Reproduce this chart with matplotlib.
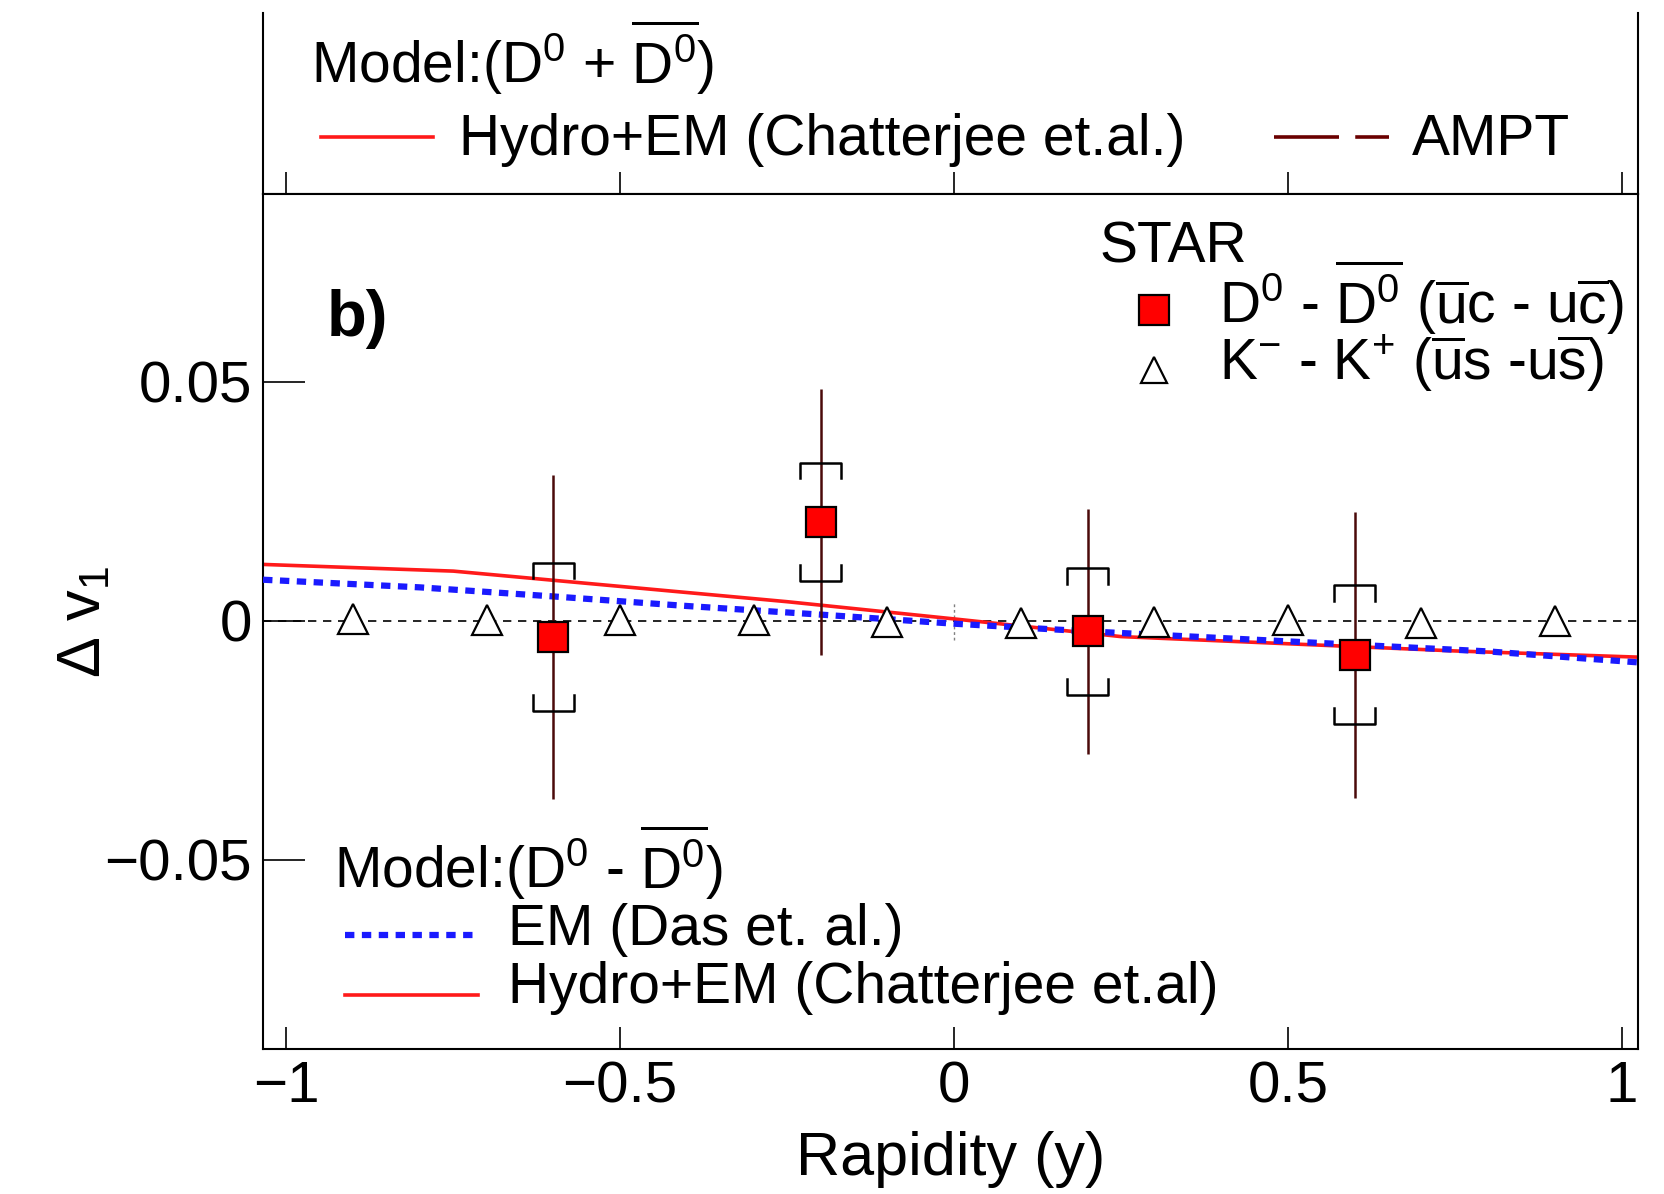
import matplotlib
matplotlib.use("Agg")
import matplotlib.pyplot as plt
from matplotlib.lines import Line2D
import numpy as np

plt.rcParams['font.family'] = ['Liberation Sans', 'DejaVu Sans']
plt.rcParams['mathtext.fontset'] = 'custom'
plt.rcParams['mathtext.rm'] = 'Liberation Sans'
plt.rcParams['mathtext.it'] = 'Liberation Sans:italic'
plt.rcParams['mathtext.bf'] = 'Liberation Sans:bold'

# ---------------- data ----------------
d0_y = [-0.6, -0.2, 0.2, 0.6]
d0_dv1 = [-0.0033, 0.0207, -0.0022, -0.0071]
d0_stat = [0.0339, 0.0278, 0.0257, 0.0299]
d0_sys = [0.0155, 0.0124, 0.0133, 0.0145]

kaon_y = [-0.9, -0.7, -0.5, -0.3, -0.1, 0.1, 0.3, 0.5, 0.7, 0.9]
kaon_dv1 = [0.0003, 0.0002, 0.0001, 0.0001, -0.0002, -0.0004, -0.0002, 0.0001, -0.0004, 0.0000]

hydro_y = [-1.035, -0.75, -0.5, -0.25, 0.0, 0.25, 0.5, 0.75, 1.025]
hydro_dv1 = [0.0118, 0.0104, 0.0072, 0.0040, 0.0004, -0.0033, -0.0048, -0.0063, -0.0076]

em_y = [-1.035, -0.8, -0.6, -0.4, -0.2, 0.0, 0.2, 0.4, 0.6, 0.8, 1.025]
em_dv1 = [0.0086, 0.0070, 0.0051, 0.0031, 0.0013, -0.0006, -0.0022, -0.0036, -0.0050, -0.0064, -0.0087]

xticks = [-1, -0.5, 0, 0.5, 1]
xticklabels = ['\u22121', '\u22120.5', '0', '0.5', '1']
yticks = [-0.05, 0, 0.05]
yticklabels = ['\u22120.05', '0', '0.05']

# ---------------- figure ----------------
W, H = 1665, 1194
fig = plt.figure(figsize=(W / 100, H / 100), dpi=100)

FS = 41
XLIM = (-1.035, 1.025)
YLIM = (-0.0896, 0.0893)

def F(xs, ys):
    # shrunk-reference pixel -> figure fraction
    return xs / 1568.0, 1 - ys / 1124.0

# top (legend) panel
axt = fig.add_axes([0.158, 0.8375, 0.826, 0.1515])
axt.set_xlim(XLIM)
axt.set_ylim(0, 1)
axt.spines['top'].set_visible(False)
for s in axt.spines.values():
    s.set_linewidth(1.5)
axt.set_xticks(xticks)
axt.set_xticklabels([])
axt.set_yticks([])
axt.tick_params(axis='x', direction='in', length=16, width=1.2)

# main panel
ax = fig.add_axes([0.158, 0.1214, 0.826, 0.7161])
ax.set_xlim(XLIM)
ax.set_ylim(YLIM)
for s in ax.spines.values():
    s.set_linewidth(1.5)
ax.set_xticks(xticks)
ax.set_xticklabels(xticklabels, fontsize=FS + 1)
ax.set_yticks(yticks)
ax.set_yticklabels(yticklabels, fontsize=FS + 1)
ax.tick_params(axis='x', direction='in', length=16, width=1.2, pad=8)
ax.tick_params(axis='y', direction='in', length=30, width=1.2, pad=8)

# zero line
ax.axhline(0, color='black', lw=1.2, ls=(0, (5, 4)), zorder=1)
ax.plot([0, 0], [-0.004, 0.004], color='gray', lw=1.0, ls=(0, (2, 2)), zorder=1)

# model curves
ax.plot(hydro_y, hydro_dv1, color='#ff1a1a', lw=2.6, zorder=2)
ax.plot(em_y, em_dv1, color='#1a1aff', lw=4.5, ls=(0, (1.5, 1.2)), zorder=3)

# kaons
ax.plot(kaon_y, kaon_dv1, ls='none', marker='^', ms=21, mfc='white',
        mec='black', mew=1.6, zorder=4)

# D0 stat errors
ax.errorbar(d0_y, d0_dv1, yerr=d0_stat, fmt='none', ecolor='#4a0a0a',
            elinewidth=1.8, capsize=0, zorder=5)

# D0 sys brackets
bw = 0.031
leg = 0.0033
for x, y, s in zip(d0_y, d0_dv1, d0_sys):
    top = y + s
    bot = y - s
    ax.plot([x - bw, x - bw, x + bw, x + bw], [top - leg, top, top, top - leg],
            color='black', lw=1.8, zorder=5)
    ax.plot([x - bw, x - bw, x + bw, x + bw], [bot + leg, bot, bot, bot + leg],
            color='black', lw=1.8, zorder=5)

ax.plot(d0_y, d0_dv1, ls='none', marker='s', ms=22, mfc='red', mec='black',
        mew=1.6, zorder=6)

# ---------------- texts / legends ----------------
def T(xs, ys, s, **kw):
    x, y = F(xs, ys)
    kw.setdefault('fontsize', FS)
    fig.text(x, y, s, va='baseline', ha=kw.pop('ha', 'left'), **kw)

def L(x1, x2, ys, **kw):
    a, y = F(x1, ys)
    b, _ = F(x2, ys)
    fig.add_artist(Line2D([a, b], [y, y], transform=fig.transFigure, **kw))

def M(xs, ys, **kw):
    x, y = F(xs, ys)
    fig.add_artist(Line2D([x], [y], transform=fig.transFigure, ls='none', **kw))

DB = r'$\overline{\mathrm{D}^0}$'

# top legend
T(293, 78, r'Model:(D$^0$ + ' + DB + ')')
L(302, 408, 129, color='#ff1a1a', lw=2.6)
T(432, 146, 'Hydro+EM (Chatterjee et.al.)')
L(1200, 1308, 129, color='#6a0000', lw=2.6, ls=(0, (18, 4.5)))
T(1330, 146, 'AMPT')

# STAR legend
T(1035, 247, 'STAR')
M(1087, 292, marker='s', ms=22, mfc='red', mec='black', mew=1.6)
T(1148, 304, r'D$^0$ - ' + DB + r' ($\overline{\mathrm{u}}$c - u$\overline{\mathrm{c}}$)')
M(1087, 348, marker='^', ms=19, mfc='white', mec='black', mew=1.6)
T(1148, 358, r'K$^{-}$ - K$^{+}$ ($\overline{\mathrm{u}}$s -u$\overline{\mathrm{s}}$)')

T(308, 316, 'b)', fontweight='bold', fontsize=FS + 6)

# lower legend
T(315, 836, r'Model:(D$^0$ - ' + DB + ')')
L(325, 450, 880, color='#1a1aff', lw=4.5, ls=(0, (1.5, 1.2)))
T(478, 890, 'EM (Das et. al.)')
L(325, 450, 937, color='#ff1a1a', lw=2.6)
T(478, 944, 'Hydro+EM (Chatterjee et.al)')

# axis labels
T(895, 1106, 'Rapidity (y)', ha='center', fontsize=FS + 3)
x, y = F(80, 585)
fig.text(x, y, r'$\Delta$ v$_1$', rotation=90, ha='center', va='center',
         fontsize=FS + 3)

fig.savefig('out.png', dpi=100)
